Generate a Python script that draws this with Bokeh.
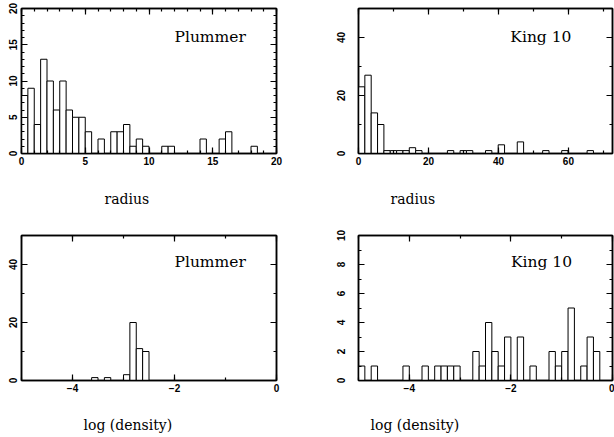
import numpy as np
from bokeh.plotting import figure
from bokeh.models import (Range1d, SingleIntervalTicker, LinearAxis, Label, Title,
                          CustomJSTickFormatter)
from bokeh.layouts import column, row
from bokeh.embed import file_html
from bokeh.resources import INLINE

N_BINS = 40

p1_xrange = (0.0, 20.0)
p1_yrange = (0.0, 20.0)
p1_counts = [8, 9, 4, 13, 10, 6, 10, 6, 5, 5,
             3, 0, 2, 0, 3, 3, 4, 1, 2, 1,
             0, 0, 1, 1, 0, 0, 0, 0, 2, 0,
             0, 2, 3, 0, 0, 0, 1, 0, 0, 0]

p2_xrange = (0.0, 72.6)
p2_yrange = (0.0, 50.0)
p2_counts = [23, 27, 14, 10, 1, 1, 1, 1, 2, 1,
             0, 0, 0, 0, 1, 0, 1, 1, 0, 0,
             1, 0, 3, 0, 0, 4, 0, 0, 0, 1,
             0, 0, 1, 0, 0, 0, 1, 0, 0, 0]

p3_xrange = (-5.0, 0.0)
p3_yrange = (0.0, 50.0)
p3_counts = [0, 0, 0, 0, 0, 0, 0, 0, 0, 0,
             0, 1, 0, 1, 0, 0, 2, 20, 11, 10,
             0, 0, 0, 0, 0, 0, 0, 0, 0, 0,
             0, 0, 0, 0, 0, 0, 0, 0, 0, 0]

p4_xrange = (-5.0, 0.0)
p4_yrange = (0.0, 10.0)
p4_counts = [1, 0, 1, 0, 0, 0, 0, 1, 0, 0,
             1, 0, 1, 1, 1, 1, 0, 0, 2, 1,
             4, 2, 1, 3, 0, 3, 0, 1, 0, 0,
             2, 1, 2, 5, 0, 1, 3, 2, 0, 0]

titles = ["Plummer", "King  10", "Plummer", "King  10"]
xlabels = ["radius", "radius", "log (density)", "log (density)"]
minus_overrides = {-4: "\u22124", -2: "\u22122"}

TICK_FONT = "Liberation Sans"
SERIF = "DejaVu Serif"


def make_panel(counts, xr, yr, xint, xminor, yint, yminor, title, tx, ty,
               xlabel, lab_off, lab_gap, ystand, bl, br, bt, bb, fw, fh,
               overrides=None):
    p = figure(frame_width=fw, frame_height=fh,
               x_range=Range1d(*xr), y_range=Range1d(*yr),
               output_backend="svg", toolbar_location=None,
               x_axis_location=None, y_axis_location=None,
               min_border_left=bl, min_border_right=br,
               min_border_top=bt, min_border_bottom=bb,
               background_fill_color="white", border_fill_color="white")
    p.outline_line_color = "black"
    p.outline_line_width = 1.5
    for g in p.grid:
        g.visible = False

    edges = np.linspace(xr[0], xr[1], N_BINS + 1)
    c = np.array(counts, dtype=float)
    m = c > 0
    p.quad(left=edges[:-1][m], right=edges[1:][m], bottom=0, top=c[m],
           fill_color="white", line_color="black", line_width=1)

    for loc in ["below", "left", "above", "right"]:
        horiz = loc in ("below", "above")
        interval, nminor = (xint, xminor) if horiz else (yint, yminor)
        ax = LinearAxis(ticker=SingleIntervalTicker(interval=interval,
                                                    num_minor_ticks=nminor))
        ax.major_tick_in = 6
        ax.major_tick_out = 0
        ax.minor_tick_in = 3
        ax.minor_tick_out = 0
        ax.axis_line_color = "black"
        ax.axis_line_width = 1.5
        ax.major_tick_line_color = "black"
        ax.minor_tick_line_color = "black"
        ax.major_tick_line_width = 1.2
        ax.minor_tick_line_width = 1.2
        if loc in ("below", "left"):
            ax.major_label_text_font = TICK_FONT
            ax.major_label_text_font_style = "bold"
            ax.major_label_text_font_size = "10px"
            ax.major_label_text_color = "black"
            ax.major_label_standoff = 3
            if loc == "left":
                ax.major_label_orientation = "vertical"
                ax.major_label_standoff = ystand
            if overrides and horiz:
                ax.major_label_overrides = overrides
        else:
            ax.formatter = CustomJSTickFormatter(code="return '';")
            ax.major_label_text_font_size = "1px"
            ax.major_label_standoff = 0
        p.add_layout(ax, loc)

    # invisible spacer between the tick labels and the x-axis caption
    spacer = LinearAxis(ticker=SingleIntervalTicker(interval=xint, num_minor_ticks=0),
                        formatter=CustomJSTickFormatter(code="return '';"))
    spacer.axis_line_color = None
    spacer.major_tick_line_color = None
    spacer.minor_tick_line_color = None
    spacer.major_tick_in = 0
    spacer.major_tick_out = lab_gap
    spacer.minor_tick_out = 0
    spacer.major_label_text_font_size = "1px"
    spacer.major_label_standoff = 0
    p.add_layout(spacer, "below")

    p.add_layout(Label(x=tx, y=ty, text=title, text_font=SERIF,
                       text_font_size="15.5px", text_color="black",
                       text_align="left", text_baseline="alphabetic"))
    p.add_layout(Title(text=xlabel, align="left", offset=lab_off,
                       standoff=2, vertical_align="bottom",
                       text_font=SERIF,
                       text_font_size="14px", text_font_style="normal",
                       text_color="black"), "below")
    return p


# top row: frames at y 8..153 ; bottom row: frames at y 235..380
p1 = make_panel(p1_counts, p1_xrange, p1_yrange, 5, 5, 5, 5, titles[0], 12.0, 16.1,
                xlabels[0], 83, 20, 5, 21, 52, 8, 74, 255, 145)
p2 = make_panel(p2_counts, p2_xrange, p2_yrange, 20, 2, 20, 2, titles[1], 43.4, 40.3,
                xlabels[1], 32, 20, 14, 30, 2, 8, 74, 254, 145)
p3 = make_panel(p3_counts, p3_xrange, p3_yrange, 2, 2, 20, 2, titles[2], -2.0, 41.0,
                xlabels[2], 62, 19, 5, 21, 52, 8, 57, 255, 145, minus_overrides)
p4 = make_panel(p4_counts, p4_xrange, p4_yrange, 2, 2, 2, 2, titles[3], -2.0, 8.2,
                xlabels[3], 12, 19, 14, 30, 2, 8, 57, 254, 145, minus_overrides)

layout = column(row(p1, p2), row(p3, p4))

open("out.html", "w").write(file_html(layout, INLINE))
